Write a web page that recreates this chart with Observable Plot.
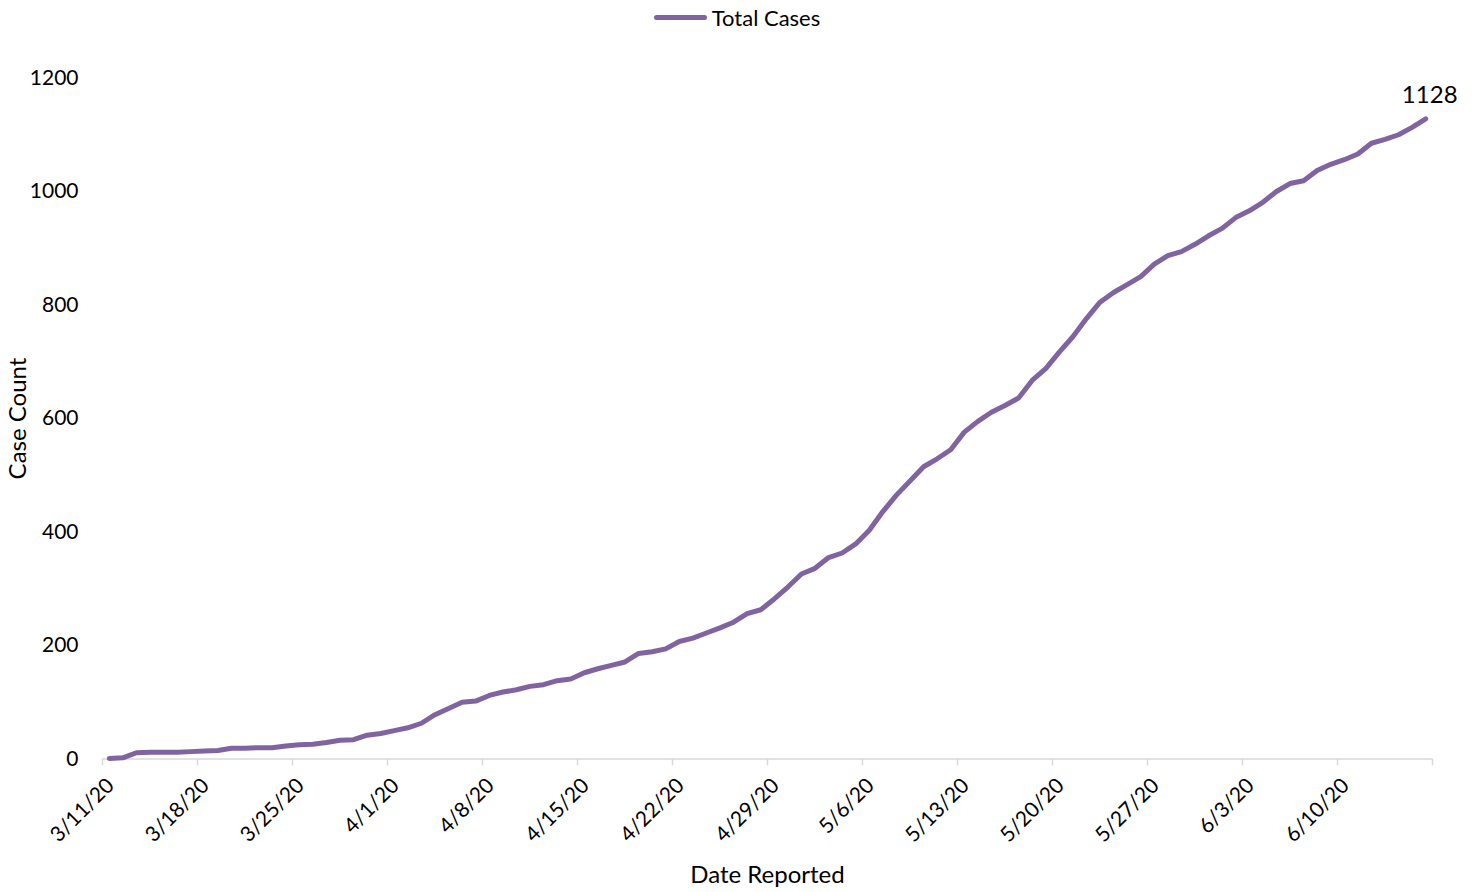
<!DOCTYPE html>
<html><head><meta charset="utf-8">
<script src="https://cdn.jsdelivr.net/npm/d3@7"></script>
<script src="https://cdn.jsdelivr.net/npm/@observablehq/plot@0.6"></script>
<style>
body{margin:0;background:#fff;font-family:Lato,sans-serif;}
#legend{height:34px;display:flex;justify-content:center;align-items:center;font-size:22px;color:#000;}
#legend .sw{display:inline-block;width:53px;height:5px;border-radius:3px;margin-right:5px;}
</style></head><body>
<div id="legend"></div>
<div id="chart"></div>
<script>
const seriesName = "Total Cases";
const lineColor = "#8064a2";
const startDate = "2020-03-11";
// Daily cumulative cases, 3/11/20 .. 6/16/20
const totalCases = [
  1, 2, 11, 12, 12, 12, 13, 14, 15, 19,
  19, 20, 20, 23, 25, 26, 29, 33, 34, 42,
  45, 50, 55, 63, 78, 89, 100, 102, 112, 118,
  122, 128, 131, 138, 141, 152, 159, 165, 171, 186,
  189, 194, 207, 213, 222, 231, 241, 256, 263, 282,
  303, 326, 336, 355, 363, 379, 403, 436, 465, 490,
  515, 529, 545, 576, 595, 611, 623, 636, 667, 688,
  717, 744, 776, 805, 822, 836, 850, 872, 887, 894,
  907, 922, 935, 954, 966, 981, 1000, 1014, 1019, 1037,
  1048, 1056, 1066, 1085, 1092, 1100, 1113, 1128
];
const xTickDates = ["2020-03-11","2020-03-18","2020-03-25","2020-04-01","2020-04-08","2020-04-15","2020-04-22","2020-04-29","2020-05-06","2020-05-13","2020-05-20","2020-05-27","2020-06-03","2020-06-10","2020-06-17"];
const xTickLabels = ["3/11/20","3/18/20","3/25/20","4/1/20","4/8/20","4/15/20","4/22/20","4/29/20","5/6/20","5/13/20","5/20/20","5/27/20","6/3/20","6/10/20",""];
const yTicks = [0, 200, 400, 600, 800, 1000, 1200];
const xTitle = "Date Reported";
const yTitle = "Case Count";

// legend
const lg = document.getElementById("legend");
const sw = document.createElement("span"); sw.className = "sw"; sw.style.background = lineColor;
const lt = document.createElement("span"); lt.textContent = seriesName;
lg.append(sw, lt);

const start = new Date(startDate + "T00:00:00Z");
const data = totalCases.map((v, i) => ({date: d3.utcDay.offset(start, i), cases: v}));
const tickDates = xTickDates.map(s => new Date(s + "T00:00:00Z"));
const labelMap = new Map(tickDates.map((d, i) => [+d, xTickLabels[i]]));
const last = data[data.length - 1];
const mid = d => d3.utcHour.offset(d.date, 12);

const chart = Plot.plot({
  width: 1474,
  height: 858,
  marginTop: 43.5,
  marginBottom: 133.5,
  marginLeft: 102,
  marginRight: 42,
  style: {fontFamily: "Lato, sans-serif", fontSize: "21px", color: "#000", background: "#fff"},
  x: {type: "utc", domain: [start, d3.utcDay.offset(start, 98)]},
  y: {domain: [0, 1200]},
  marks: [
    Plot.axisY({ticks: yTicks, tickFormat: d3.format("d"), tickSize: 0, tickPadding: 24, label: null, fontSize: 21}),
    // tick marks
    Plot.axisX({ticks: tickDates, tickFormat: () => "", tickSize: 7, stroke: "#d9d9d9", strokeWidth: 1.5, label: null}),
    // tick labels
    Plot.axisX({ticks: tickDates, tickFormat: d => labelMap.get(+d) ?? "", tickSize: 0, tickPadding: 23, tickRotate: -45, fill: "#000", fontSize: 21, dx: 8, label: null}),
    Plot.ruleY([0], {stroke: "#d9d9d9", strokeWidth: 1.5}),
    Plot.line(data, {x: mid, y: "cases", stroke: lineColor, strokeWidth: 5, strokeLinejoin: "round", strokeLinecap: "round"}),
    Plot.text([last], {x: mid, y: "cases", text: d => String(d.cases), dy: -24, dx: 4, fontSize: 24, fill: "#000"}),
    Plot.text([xTitle], {frameAnchor: "bottom", dy: 124, fontSize: 24, fill: "#000"}),
    Plot.text([yTitle], {frameAnchor: "left", textAnchor: "middle", dx: -84, rotate: -90, fontSize: 24, fill: "#000"})
  ]
});
document.getElementById("chart").append(chart);
</script>
</body></html>
